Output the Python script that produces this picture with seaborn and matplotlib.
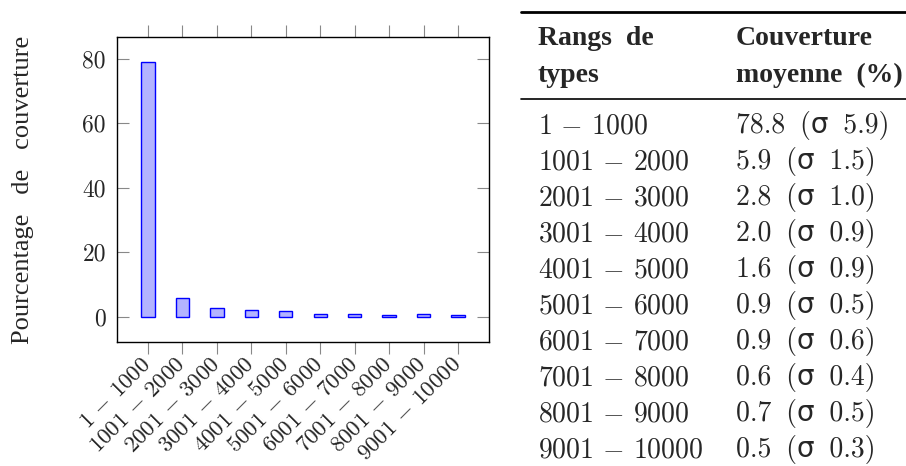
import numpy as np
import pandas as pd
import matplotlib
matplotlib.use('Agg')
import matplotlib.pyplot as plt
from matplotlib.lines import Line2D
import seaborn as sns

range_starts = [1, 1001, 2001, 3001, 4001, 5001, 6001, 7001, 8001, 9001]
range_ends = [1000, 2000, 3000, 4000, 5000, 6000, 7000, 8000, 9000, 10000]
mean_coverage = [78.8, 5.9, 2.8, 2.0, 1.6, 0.9, 0.9, 0.6, 0.7, 0.5]
sigma_coverage = [5.9, 1.5, 1.0, 0.9, 0.9, 0.5, 0.6, 0.4, 0.5, 0.3]
y_ticks = [0, 20, 40, 60, 80]

W, H = 906, 466

sns.set_style('white')
plt.rcParams['font.family'] = ['cmr10', 'DejaVu Sans']
plt.rcParams['mathtext.fontset'] = 'cm'
plt.rcParams['axes.unicode_minus'] = False


def fx(px):
    return px / W


def fy(py):
    return 1 - py / H


def range_label(a, b):
    # TeX-like spacing around the minus sign
    return rf'${a}\,-\,{b}$'


df = pd.DataFrame({
    'rang': [f'{a} - {b}' for a, b in zip(range_starts, range_ends)],
    'moyenne': mean_coverage,
})

fig = plt.figure(figsize=(W / 100, H / 100), dpi=100)
ax = fig.add_axes([fx(117), fy(342), (489 - 117) / W, (342 - 37) / H])

sns.barplot(data=df, x='rang', y='moyenne', ax=ax, width=0.385,
            color='#B3B3FF', saturation=1, edgecolor='#0000FF', linewidth=1.0)

ax.set_xlim(-0.9, 9.9)
ax.set_ylim(-7.88, 86.68)
ax.set_xlabel('')
ax.set_ylabel('')
ax.set_yticks(y_ticks)
ax.set_yticklabels([str(t) for t in y_ticks], fontsize=17)
ax.set_xticks(range(len(df)))
ax.set_xticklabels([range_label(a, b) for a, b in zip(range_starts, range_ends)],
                   rotation=45, ha='right', va='center', rotation_mode='anchor',
                   fontsize=16.5)

ax.tick_params(axis='x', direction='out', length=8.5, width=0.8, color='#888888',
               top=True, bottom=True, pad=5)
ax.tick_params(axis='y', direction='in', length=8.5, width=0.8, color='#888888',
               left=True, right=True, pad=8)
for s in ax.spines.values():
    s.set_visible(True)
    s.set_color('black')
    s.set_linewidth(1.0)

fig.text(fx(23), fy(189.5), 'Pourcentage   de   couverture', rotation=90,
         ha='center', va='center', fontsize=19, family='Liberation Serif')

# Table on the right
col1_x, col2_x = 537.7, 736
fig.add_artist(Line2D([fx(521), fx(906)], [fy(11.7), fy(11.7)], color='black', lw=2.0))
fig.add_artist(Line2D([fx(521), fx(906)], [fy(99), fy(99)], color='black', lw=1.2))

hdr = dict(fontsize=20, fontweight='bold', family='Liberation Serif', va='baseline', ha='left')
fig.text(fx(col1_x), fy(45), 'Rangs  de', **hdr)
fig.text(fx(col1_x), fy(82), 'types', **hdr)
fig.text(fx(col2_x), fy(45), 'Couverture', **hdr)
fig.text(fx(col2_x), fy(82), 'moyenne  (%)', **hdr)

for i, (a, b, m, s) in enumerate(zip(range_starts, range_ends, mean_coverage, sigma_coverage)):
    yb = 133.3 + 36 * i
    fig.text(fx(col1_x), fy(yb), range_label(a, b), fontsize=20, va='baseline', ha='left')
    fig.text(fx(col2_x), fy(yb), f'{m:.1f} \u2009(σ \u2009{s:.1f})', fontsize=20,
             va='baseline', ha='left', family=['cmr10', 'DejaVu Sans'])

fig.savefig('out.png', dpi=100)
